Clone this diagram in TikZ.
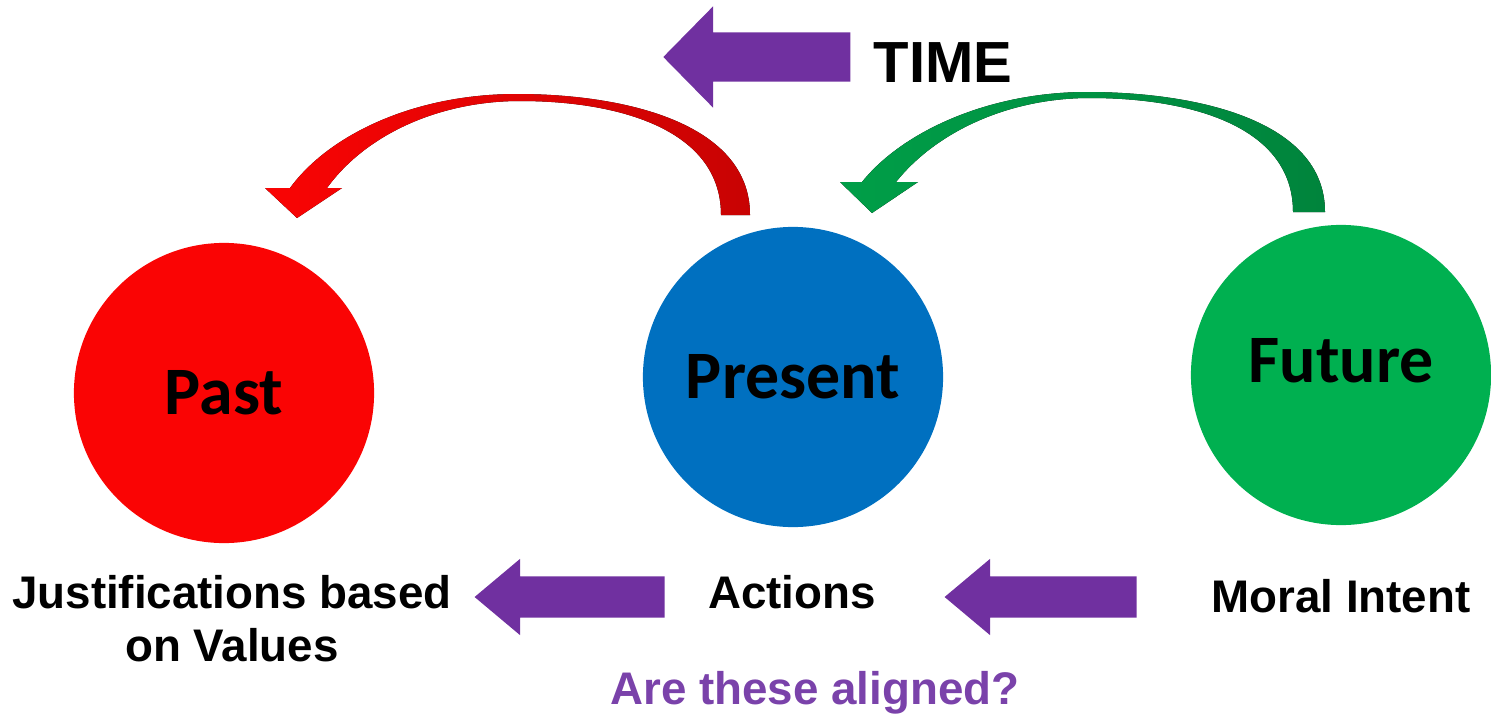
\documentclass[tikz,border=0pt]{standalone}
\usepackage{fontspec}
\setmainfont{Liberation Sans}
\newfontfamily\calibri{Carlito}
\usepackage{tikz}
\usetikzlibrary{shapes.arrows,positioning}
\definecolor{pastred}{RGB}{250,4,4}
\definecolor{nowblue}{RGB}{0,112,192}
\definecolor{futgreen}{RGB}{0,176,80}
\definecolor{timepurple}{RGB}{112,48,160}
\definecolor{askpurple}{RGB}{122,66,170}

\begin{document}
\begin{tikzpicture}[x=0.01cm,y=-0.01cm,
  phase/.style={circle,minimum size=3cm,inner sep=0pt,
    font=\calibri\bfseries\fontsize{19.3}{22}\selectfont},
  caption/.style={font=\bfseries\fontsize{13}{15}\selectfont,align=center},
  blockarrow/.style={single arrow,fill=timepurple,draw=none,rotate=180,
    inner xsep=0pt,inner ysep=0.2cm,minimum height=1.9cm,
    single arrow head extend=0.175cm,single arrow tip angle=80}]
  \useasboundingbox (0,0) rectangle (1491,718);

  % time direction
  \node[blockarrow,minimum height=1.87cm,inner ysep=0.24cm,
    single arrow head extend=0.26cm,single arrow tip angle=91] (timearrow) at (769,57) {};
  \node[font=\bfseries\fontsize{16.5}{19}\selectfont,anchor=base] (time) at (943,82) {TIME};

  % the three phases
  \node[phase,fill=pastred] (past) at (224,393) {Past};
  \node[phase,fill=nowblue] (present) at (793,377) {Present};
  \node[phase,fill=futgreen,text depth=0.3cm] (future) at (1341,375) {Future};

  % present -> past
  \fill[left color=pastred,right color=pastred!80!black]
    (750,215) .. controls (750,122) and (622,94) .. (517,94)
    .. controls (412,94) and (328,136) .. (290,188)
    -- (265,188) -- (297,218) -- (342,188) -- (327,188)
    .. controls (366,134) and (440,101) .. (520,101)
    .. controls (620,101) and (721,130) .. (721,215) -- cycle;
  % future -> present
  \fill[left color=futgreen!90!black,right color=futgreen!75!black]
    (1325,212) .. controls (1325,120) and (1196,92) .. (1087,92)
    .. controls (988,92) and (902,132) .. (862,182)
    -- (840,182) -- (872,213) -- (918,182) -- (896,182)
    .. controls (936,132) and (1008,98) .. (1090,98)
    .. controls (1190,98) and (1293,126) .. (1293,212) -- cycle;

  % what each phase stands for
  \node[caption,anchor=base] (just) at (232,608) {Justifications based};
  \node[caption,anchor=base] (justb) at (232,661) {on Values};
  \node[caption,anchor=base] (actions) at (792,608) {Actions};
  \node[caption,anchor=base] (intent) at (1341,612) {Moral Intent};
  \node[blockarrow] (leftarrow) at (582,597) {};
  \node[blockarrow,minimum height=1.92cm] (rightarrow) at (1053,597) {};
  \node[caption,text=askpurple,anchor=base] (ask) at (815,704) {Are these aligned?};
\end{tikzpicture}
\end{document}
